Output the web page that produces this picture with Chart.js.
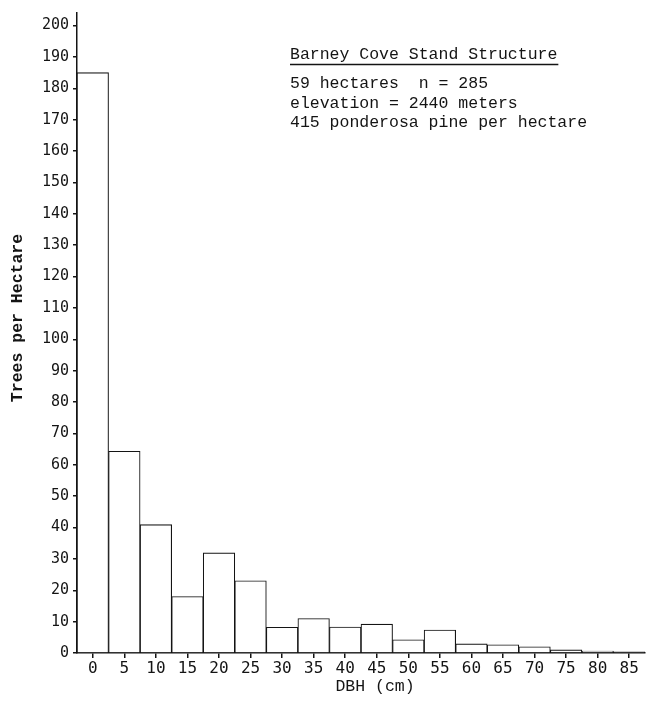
<!DOCTYPE html>
<html>
<head>
<meta charset="utf-8">
<script src="https://cdn.jsdelivr.net/npm/chart.js@4/dist/chart.umd.min.js"></script>
<style>
  html, body { margin: 0; background: #fff; }
  canvas { display: block; }
</style>
</head>
<body>
<canvas id="c" width="647" height="710"></canvas>
<script>
// Diameter-at-breast-height classes (cm) and stand density per class
const dbhClasses = ['0', '5', '10', '15', '20', '25', '30', '35', '40',
                    '45', '50', '55', '60', '65', '70', '75', '80', '85'];
const treesPerHectare = [185, 64.3, 40.9, 18, 31.9, 23, 8.2, 11, 8.3,
                         9.2, 4.2, 7.3, 2.9, 2.6, 2.0, 1.0, 0.6, 0.4];
const yTickValues = [0, 10, 20, 30, 40, 50, 60, 70, 80, 90, 100,
                     110, 120, 130, 140, 150, 160, 170, 180, 190, 200];

const xTitle = 'DBH (cm)';
const yTitle = 'Trees per Hectare';
const noteTitle = 'Barney Cove Stand Structure';
const noteLines = ['59 hectares  n = 285',
                   'elevation = 2440 meters',
                   '415 ponderosa pine per hectare'];

const INK = '#141414';
const yTickFont = { family: 'DejaVu Sans Mono', size: 15 };
const xTickFont = { family: 'DejaVu Sans Mono', size: 16 };
const typeFont = '16.5px "Liberation Mono", monospace';

// Axis titles and the stand summary block, typed in a monospace face
const textPlugin = {
  id: 'standText',
  afterDraw(chart) {
    const { ctx, chartArea } = chart;
    ctx.save();
    ctx.fillStyle = INK;
    ctx.strokeStyle = INK;

    // y-axis title, rotated
    ctx.font = 'bold ' + typeFont;
    ctx.textAlign = 'center';
    ctx.textBaseline = 'middle';
    ctx.save();
    ctx.translate(18, 318);
    ctx.rotate(-Math.PI / 2);
    ctx.fillText(yTitle, 0, 0);
    ctx.restore();

    // x-axis title
    ctx.font = typeFont;
    ctx.fillText(xTitle, 375, 687);

    // summary block
    const x0 = chartArea.left + 213;
    ctx.textAlign = 'left';
    ctx.textBaseline = 'alphabetic';
    ctx.font = typeFont;
    ctx.fillText(noteTitle, x0, 59);
    const w = ctx.measureText(noteTitle).width;
    ctx.lineWidth = 1.5;
    ctx.beginPath();
    ctx.moveTo(x0, 64.5);
    ctx.lineTo(x0 + w + 1, 64.5);
    ctx.stroke();
    noteLines.forEach((line, i) => ctx.fillText(line, x0, 88 + i * 19.5));
    ctx.restore();
  }
};

new Chart(document.getElementById('c'), {
  type: 'bar',
  data: {
    labels: dbhClasses,
    datasets: [{
      data: treesPerHectare,
      backgroundColor: '#ffffff',
      borderColor: INK,
      borderWidth: 1.1,
      barPercentage: 1,
      categoryPercentage: 1
    }]
  },
  options: {
    responsive: false,
    animation: false,
    layout: { padding: { top: 9, right: 2, left: 0, bottom: 0 } },
    plugins: { legend: { display: false }, tooltip: { enabled: false } },
    scales: {
      x: {
        offset: true,
        grid: { display: true, drawOnChartArea: false, drawTicks: true,
                tickLength: 5, offset: false, color: INK, lineWidth: 1.5 },
        border: { display: true, color: INK, width: 1.5 },
        ticks: { font: xTickFont, color: INK, padding: 1,
                 maxRotation: 0, autoSkip: false },
        afterFit(scale) { scale.height = 57; }
      },
      y: {
        min: 0,
        max: 204,
        grid: { display: true, drawOnChartArea: false, drawTicks: true,
                tickLength: 4, color: INK, lineWidth: 1.5 },
        border: { display: true, color: INK, width: 1.5 },
        ticks: { font: yTickFont, color: INK, padding: 4, stepSize: 10 },
        afterBuildTicks(scale) {
          scale.ticks = yTickValues.map(v => ({ value: v }));
        },
        afterFit(scale) { scale.width = 77; }
      }
    }
  },
  plugins: [textPlugin]
});
</script>
</body>
</html>
